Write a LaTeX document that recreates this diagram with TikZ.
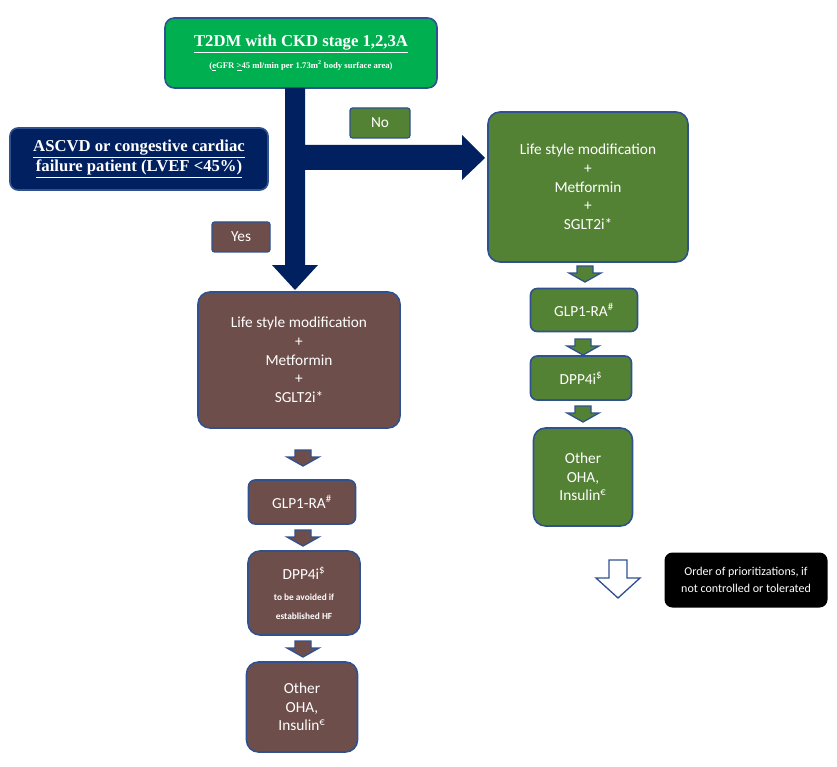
\documentclass[tikz,border=0pt]{standalone}
\usepackage{fontspec}
\setmainfont{Carlito}
\newfontfamily\timesfont{Liberation Serif}
\usetikzlibrary{positioning}
\definecolor{brownbox}{HTML}{6E4E4B}
\definecolor{greenbox}{HTML}{548235}
\definecolor{topgreen}{HTML}{00B050}
\definecolor{navy}{HTML}{002060}
\definecolor{edgeblue}{HTML}{2F528F}

\begin{document}
\begin{tikzpicture}[x=0.75pt, y=-0.75pt]
        % styles
        \tikzset{
            flowbox/.style={draw=edgeblue, line width=1.2pt, rounded corners=9pt, text=white, align=center, inner sep=2pt, font=\fontsize{11.5}{14}\selectfont},
            brownstep/.style={flowbox, fill=brownbox},
            greenstep/.style={flowbox, fill=greenbox},
            tagbox/.style={draw=edgeblue, line width=1pt, rounded corners=2pt, text=white, font=\fontsize{11.5}{14}\selectfont},
            navyarrow/.style={fill=navy, draw=none},
            pics/dnarrow/.style={code={
                \draw[draw=edgeblue, line width=1pt, fill=#1]
                    (-8,0) -- (8,0) -- (8,7) -- (16,7) -- (0,16) -- (-16,7) -- (-8,7) -- cycle;
            }}
        }
        \useasboundingbox (0,0) rectangle (837,766);

        % top box
        \node[flowbox, fill=topgreen, rounded corners=7pt, minimum width=272*0.75pt, minimum height=70*0.75pt, font=\timesfont\bfseries] (top) at (301,53)
            {{\fontsize{12.5}{15}\selectfont\underline{T2DM with CKD stage 1,2,3A}}\\[4pt]
             {\fontsize{6.5}{8}\selectfont(\underline{e}GFR \underline{>}45 ml/min per 1.73m\textsuperscript{2} body surface area)}};

        % big navy arrows
        \fill[navyarrow] (285,88) -- (305,88) -- (305,145) -- (462,145) -- (462,135) -- (485,158)
            -- (462,180) -- (462,170) -- (305,170) -- (305,265) -- (318,265) -- (295,290)
            -- (272,265) -- (285,265) -- cycle;

        % condition box
        \node[flowbox, fill=navy, rounded corners=6pt, minimum width=258*0.75pt, minimum height=62*0.75pt, font=\timesfont\bfseries\fontsize{12.5}{15}\selectfont] (cond) at (139,159)
            {\underline{ASCVD or congestive cardiac}\\\underline{failure patient (LVEF <45\%)}};
        \node[tagbox, fill=greenbox, minimum width=60*0.75pt, minimum height=30*0.75pt] (no) at (380,123) {No};
        \node[tagbox, fill=brownbox, minimum width=58*0.75pt, minimum height=30*0.75pt] (yes) at (241,237) {Yes};

        % left branch
        \node[brownstep, minimum width=202*0.75pt, minimum height=136*0.75pt] (lmain) at (299,360)
            {Life style modification\\+\\Metformin\\+\\SGLT2i*};
        \node[brownstep, rounded corners=5pt, minimum width=107*0.75pt, minimum height=44*0.75pt] (lglp) at (302,502) {GLP1-RA\textsuperscript{\#}};
        \node[brownstep, minimum width=112*0.75pt, minimum height=84*0.75pt] (ldpp) at (304,593)
            {DPP4i\textsuperscript{\$}\\[2pt]{\fontsize{7}{13}\selectfont\bfseries to be avoided if}\\{\fontsize{7}{13}\selectfont\bfseries established HF}};
        \node[brownstep, minimum width=111*0.75pt, minimum height=90*0.75pt] (loha) at (302,707)
            {Other\\OHA,\\Insulin\textsuperscript{€}};
        \pic at (303,450) {dnarrow=brownbox};
        \pic at (303,530) {dnarrow=brownbox};
        \pic at (303,641) {dnarrow=brownbox};

        % right branch
        \node[greenstep, minimum width=200*0.75pt, minimum height=150*0.75pt] (rmain) at (588,187)
            {Life style modification\\+\\Metformin\\+\\SGLT2i*};
        \node[greenstep, rounded corners=5pt, minimum width=107*0.75pt, minimum height=43*0.75pt] (rglp) at (584,310) {GLP1-RA\textsuperscript{\#}};
        \node[greenstep, rounded corners=5pt, minimum width=101*0.75pt, minimum height=44*0.75pt] (rdpp) at (581,378) {DPP4i\textsuperscript{\$}};
        \node[greenstep, minimum width=99*0.75pt, minimum height=98*0.75pt] (roha) at (583,477)
            {Other\\OHA,\\Insulin\textsuperscript{€}};
        \pic at (585,266) {dnarrow=greenbox};
        \pic at (583,339) {dnarrow=greenbox};
        \pic at (583,406) {dnarrow=greenbox};

        % legend
        \draw[edgeblue, line width=1pt, fill=white] (609,560) -- (627,560) -- (627,578) -- (640,578)
            -- (618,598) -- (596,578) -- (609,578) -- cycle;
        \node[fill=black, rounded corners=6pt, text=white, align=center, minimum width=163*0.75pt, minimum height=55*0.75pt, font=\fontsize{9}{13}\selectfont] (legend) at (746,580)
            {Order of prioritizations, if\\not controlled or tolerated};
    \end{tikzpicture}
\end{document}
